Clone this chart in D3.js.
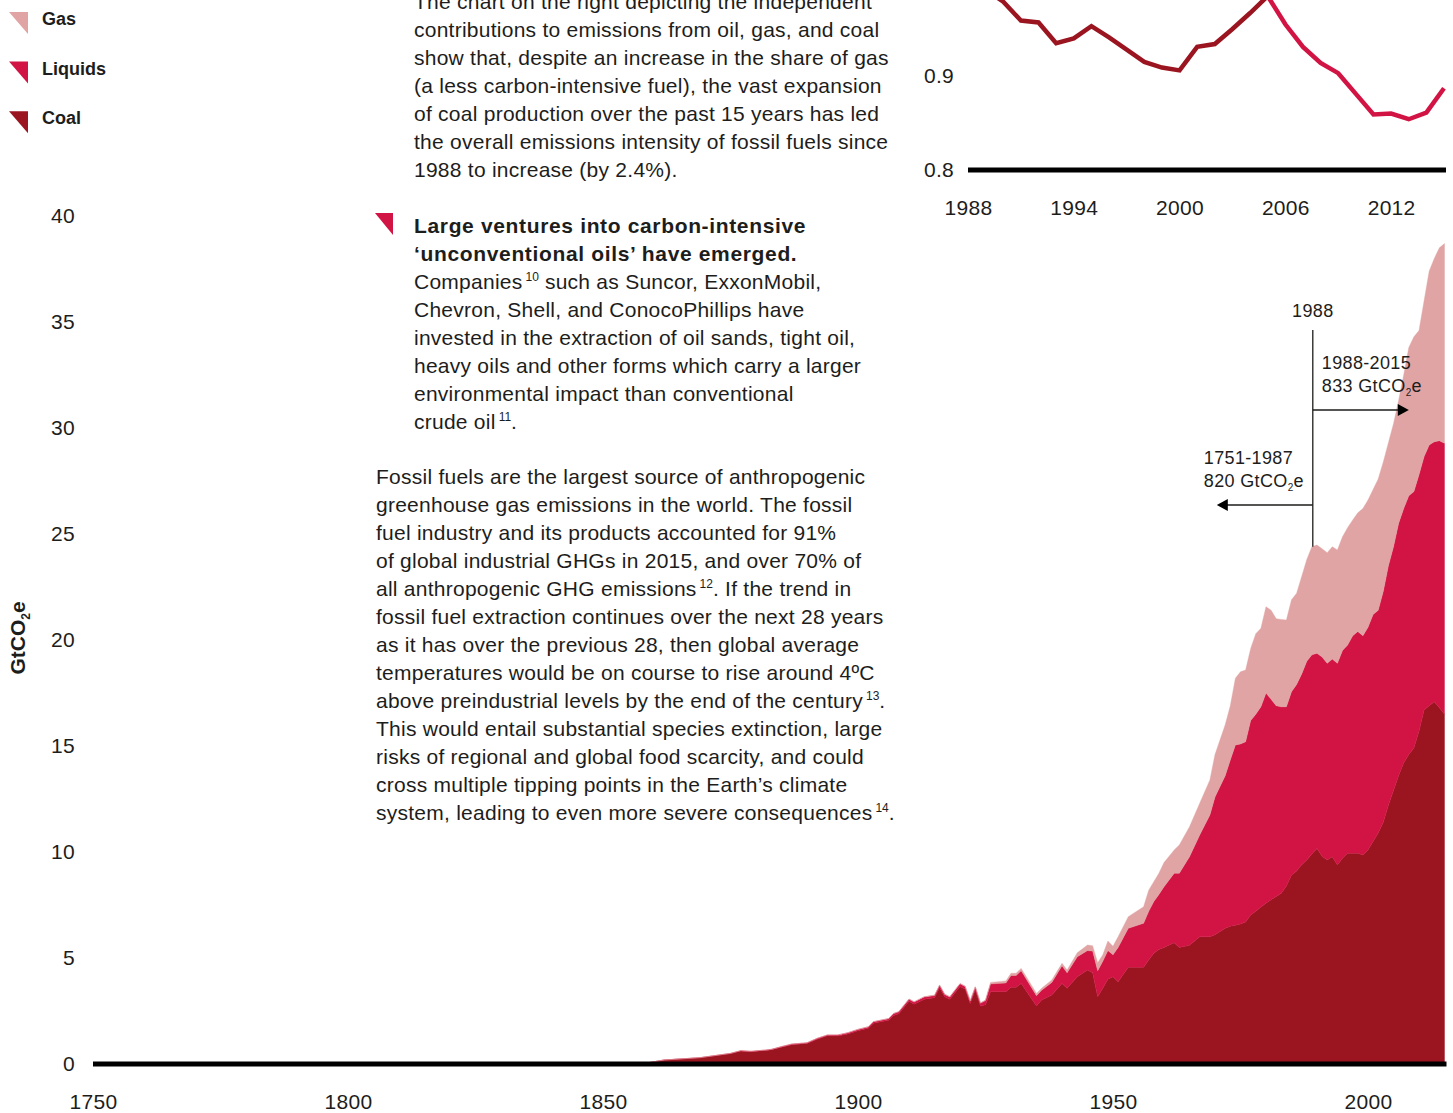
<!DOCTYPE html>
<html>
<head>
<meta charset="utf-8">
<script src="https://cdn.jsdelivr.net/npm/d3@7"></script>
<style>
  body { margin: 0; background: #fff; }
  svg { display: block; }
  text { font-family: "Liberation Sans", Arial, sans-serif; fill: #1d1d1b; }
  .copy { font-size: 21px; letter-spacing: 0.25px; }
  .copy .head { font-weight: bold; letter-spacing: 0.65px; }
  .tick text { font-size: 21px; letter-spacing: 0.3px; fill: #1d1d1b; }
  .legendText { font-size: 18px; font-weight: bold; }
  .note { font-size: 18px; letter-spacing: 0.35px; }
  .unit { font-size: 21px; font-weight: bold; }
</style>
</head>
<body>
<div id="chart"></div>
<script>
// emissions by fuel, GtCO2e
var years = [1751, 1800, 1850, 1858, 1862, 1869, 1875, 1877, 1879, 1882, 1883, 1885, 1887, 1890, 1892, 1894, 1896, 1898,
  1900, 1902, 1903, 1906, 1907, 1908, 1910, 1911, 1913, 1915, 1916, 1917, 1918, 1920, 1921, 1922, 1923, 1924, 1925, 1926,
  1929, 1930, 1931, 1932, 1935, 1936, 1938, 1940, 1941, 1943, 1945, 1946, 1947, 1948, 1949, 1950, 1951, 1953, 1956, 1957,
  1958, 1959, 1960, 1962, 1963, 1965, 1967, 1969, 1970, 1972, 1973, 1974, 1975, 1976, 1977, 1978, 1979, 1980, 1981, 1982,
  1983, 1984, 1985, 1986, 1987, 1988, 1989, 1990, 1991, 1992, 1993, 1994, 1995, 1996, 1997, 1998, 1999, 2000, 2001, 2002,
  2003, 2004, 2005, 2006, 2007, 2008, 2009, 2010, 2011, 2012, 2013, 2014, 2015];
var coal = [0, 0, 0, 0.02, 0.19, 0.29, 0.49, 0.61, 0.58, 0.64, 0.67, 0.79, 0.91, 0.97, 1.17, 1.33, 1.32, 1.42,
  1.57, 1.69, 1.92, 2.06, 2.29, 2.37, 2.96, 2.82, 3.06, 3.13, 3.60, 3.17, 3.05, 3.66, 3.54, 2.85, 3.50, 2.73, 2.80, 3.41,
  3.41, 3.62, 3.62, 3.80, 2.74, 3.02, 3.25, 3.80, 3.57, 4.12, 4.43, 4.30, 3.17, 3.57, 4.00, 4.12, 3.88, 4.56, 4.56, 4.90,
  5.22, 5.40, 5.50, 5.72, 5.50, 5.60, 6.00, 6.00, 6.10, 6.40, 6.50, 6.55, 6.60, 6.70, 7.03, 7.20, 7.40, 7.58, 7.75, 7.90,
  8.05, 8.40, 8.90, 9.10, 9.40, 9.62, 9.90, 10.17, 9.80, 9.62, 9.78, 9.39, 9.70, 9.94, 9.94, 9.94, 9.86, 10.10, 10.50, 10.90,
  11.40, 12.20, 12.90, 13.60, 14.20, 14.60, 14.90, 15.70, 16.70, 16.90, 17.09, 16.80, 16.50];
var liquids = [0, 0, 0, 0, 0, 0.01, 0.01, 0.02, 0.02, 0.02, 0.02, 0.03, 0.03, 0.03, 0.04, 0.04, 0.05, 0.05,
  0.06, 0.06, 0.07, 0.08, 0.09, 0.09, 0.10, 0.10, 0.10, 0.10, 0.11, 0.11, 0.11, 0.12, 0.12, 0.12, 0.13, 0.14, 0.19, 0.37,
  0.41, 0.56, 0.56, 0.60, 0.48, 0.46, 0.60, 0.83, 0.73, 0.94, 0.92, 1.03, 1.23, 1.28, 1.35, 1.03, 1.62, 1.84, 2.08, 2.30,
  2.44, 2.60, 2.86, 3.28, 3.50, 4.18, 4.80, 5.75, 6.50, 7.20, 7.84, 8.50, 8.50, 8.50, 9.17, 9.30, 9.45, 9.92, 9.45, 9.00,
  8.80, 8.45, 8.66, 8.80, 9.00, 9.38, 9.40, 9.20, 9.40, 9.28, 9.32, 9.51, 9.80, 9.82, 10.26, 10.46, 10.34, 10.50, 10.70, 10.50,
  10.90, 11.30, 11.50, 11.90, 12.00, 12.20, 12.10, 12.10, 11.95, 12.30, 12.26, 12.60, 12.78];
var gas = [0, 0, 0, 0, 0, 0, 0, 0, 0, 0, 0, 0, 0, 0, 0, 0, 0, 0.01,
  0.01, 0.01, 0.01, 0.01, 0.01, 0.01, 0.01, 0.02, 0.02, 0.02, 0.02, 0.02, 0.02, 0.02, 0.02, 0.02, 0.02, 0.02, 0.03, 0.07,
  0.10, 0.10, 0.10, 0.11, 0.11, 0.09, 0.11, 0.12, 0.13, 0.19, 0.26, 0.25, 0.38, 0.30, 0.45, 0.40, 0.50, 0.55, 0.78, 1.00,
  0.94, 1.00, 1.14, 1.10, 1.33, 1.41, 1.50, 1.65, 2.00, 2.40, 2.56, 3.15, 3.40, 3.38, 3.40, 3.80, 3.70, 4.07, 4.20, 4.10,
  4.12, 4.09, 4.34, 4.30, 4.60, 4.80, 5.10, 5.11, 5.10, 5.22, 5.30, 5.35, 5.37, 5.54, 5.46, 5.60, 6.00, 6.00, 5.90, 6.20,
  6.10, 5.80, 5.80, 5.80, 6.30, 7.00, 7.30, 6.80, 7.35, 8.20, 8.65, 9.10, 9.42];

var fuels = ["coal", "liquids", "gas"];
var fuelColors = {gas: "#e0a4a4", liquids: "#d21444", coal: "#9b1520"};
var legendItems = ["Gas", "Liquids", "Coal"];

var yearTicks = [1750, 1800, 1850, 1900, 1950, 2000];
var valueTicks = [0, 5, 10, 15, 20, 25, 30, 35, 40];

// emissions intensity inset
var intensityYearsCoal = [1988, 1989, 1990, 1991, 1992, 1993, 1994, 1995, 1996, 1997, 1998, 1999, 2000, 2001, 2002, 2003, 2004, 2005];
var intensityCoal = [1.005, 0.992, 0.979, 0.959, 0.957, 0.935, 0.940, 0.953, 0.941, 0.928, 0.915, 0.909, 0.906, 0.931, 0.934, 0.950, 0.967, 0.985];
var intensityYearsLiquids = [2005, 2006, 2007, 2008, 2009, 2010, 2011, 2012, 2013, 2014, 2015];
var intensityLiquids = [0.985, 0.955, 0.931, 0.914, 0.903, 0.881, 0.859, 0.860, 0.854, 0.861, 0.887];
var insetYearTicks = [1988, 1994, 2000, 2006, 2012];
var insetValueTicks = [0.8, 0.9];

var rows = years.map(function(yr, i){
  return {year: yr, coal: coal[i], liquids: liquids[i], gas: gas[i]};
});

var width = 1453, height = 1113;

var svg = d3.select("#chart")
  .append("svg")
  .attr("width", width)
  .attr("height", height);

// scales
var x = d3.scaleLinear().domain([1750, 2015]).range([93, 1444.5]);
var y = d3.scaleLinear().domain([0, 40]).range([1064, 216]);

var ix = d3.scaleLinear().domain([1988, 2015]).range([968, 1444]);
var iy = d3.scaleLinear().domain([0.8, 0.9]).range([170, 76]);

// stacked areas
var series = d3.stack().keys(fuels)(rows);

var area = d3.area()
  .x(function(d){ return x(d.data.year); })
  .y0(function(d){ return y(d[0]); })
  .y1(function(d){ return y(d[1]); });

svg.append("g")
  .selectAll("path")
  .data(series)
  .enter()
  .append("path")
  .attr("d", area)
  .attr("fill", function(d){ return fuelColors[d.key]; })
  .attr("stroke", function(d){ return fuelColors[d.key]; })
  .attr("stroke-width", 0.4);

// main axes
var xAxis = d3.axisBottom(x).tickValues(yearTicks).tickFormat(d3.format("d")).tickSize(0).tickPadding(30);
svg.append("g")
  .attr("transform", "translate(0," + y(0) + ")")
  .call(xAxis)
  .call(function(g){ g.select(".domain").remove(); });

var yAxis = d3.axisLeft(y).tickValues(valueTicks).tickSize(0).tickPadding(18);
svg.append("g")
  .attr("transform", "translate(93,0)")
  .call(yAxis)
  .call(function(g){ g.select(".domain").remove(); });

svg.append("line")
  .attr("x1", x(1750)).attr("x2", x(2015) + 2)
  .attr("y1", y(0)).attr("y2", y(0))
  .attr("stroke", "#000").attr("stroke-width", 5);

var unit = svg.append("text")
  .attr("class", "unit")
  .attr("transform", "translate(25," + 638 + ") rotate(-90)")
  .attr("text-anchor", "middle");
unit.append("tspan").text("GtCO");
unit.append("tspan").attr("dy", 5).style("font-size", "12px").text("2");
unit.append("tspan").attr("dy", -5).text("e");

// inset lines
var insetLine = d3.line()
  .x(function(d){ return ix(d[0]); })
  .y(function(d){ return iy(d[1]); });

svg.append("path")
  .datum(d3.zip(intensityYearsCoal, intensityCoal))
  .attr("d", insetLine)
  .attr("fill", "none")
  .attr("stroke", fuelColors.coal)
  .attr("stroke-width", 4.5)
  .attr("stroke-linejoin", "miter");

svg.append("path")
  .datum(d3.zip(intensityYearsLiquids, intensityLiquids))
  .attr("d", insetLine)
  .attr("fill", "none")
  .attr("stroke", fuelColors.liquids)
  .attr("stroke-width", 4.5)
  .attr("stroke-linejoin", "miter");

var ixAxis = d3.axisBottom(ix).tickValues(insetYearTicks).tickFormat(d3.format("d")).tickSize(0).tickPadding(30);
svg.append("g")
  .attr("transform", "translate(0," + iy(0.8) + ")")
  .call(ixAxis)
  .call(function(g){ g.select(".domain").remove(); });

var iyAxis = d3.axisLeft(iy).tickValues(insetValueTicks).tickFormat(d3.format(".1f")).tickSize(0).tickPadding(14);
svg.append("g")
  .attr("transform", "translate(968,0)")
  .call(iyAxis)
  .call(function(g){ g.select(".domain").remove(); });

svg.append("line")
  .attr("x1", ix(1988)).attr("x2", ix(2015) + 2)
  .attr("y1", iy(0.8)).attr("y2", iy(0.8))
  .attr("stroke", "#000").attr("stroke-width", 5);

// legend
var legend = svg.append("g").attr("class", "legend");
legendItems.forEach(function(name, i){
  var g = legend.append("g").attr("transform", "translate(9," + (12 + i * 49.6) + ")");
  g.append("path")
    .attr("d", "M0,0L19,0L19,22Z")
    .attr("fill", fuelColors[name.toLowerCase()]);
  g.append("text")
    .attr("class", "legendText")
    .attr("x", 33)
    .attr("y", 13)
    .text(name);
});

// annotation of the 1988 split
var splitYear = 1988;
var splitX = x(splitYear) + 6;
var ann = svg.append("g").attr("class", "annotation");
ann.append("line")
  .attr("x1", splitX).attr("x2", splitX)
  .attr("y1", 330).attr("y2", y(24.4))
  .attr("stroke", "#1d1d1b").attr("stroke-width", 1.3);
ann.append("text").attr("class", "note").attr("x", splitX).attr("y", 317)
  .attr("text-anchor", "middle").text(splitYear);

function arrow(y0, len){
  ann.append("line")
    .attr("x1", splitX).attr("x2", splitX + len - (len > 0 ? 8 : -8))
    .attr("y1", y0).attr("y2", y0)
    .attr("stroke", "#1d1d1b").attr("stroke-width", 1.3);
  var tip = splitX + len, back = tip - (len > 0 ? 11 : -11);
  ann.append("path")
    .attr("d", "M" + tip + "," + y0 + "L" + back + "," + (y0 - 6) + "L" + back + "," + (y0 + 6) + "Z")
    .attr("fill", "#000");
}
arrow(410, 96);
arrow(505, -96);

function noteText(xp, yp, period, total){
  ann.append("text").attr("class", "note").attr("x", xp).attr("y", yp).text(period);
  var l2 = ann.append("text").attr("class", "note").attr("x", xp).attr("y", yp + 23);
  l2.append("tspan").text(total + " GtCO");
  l2.append("tspan").attr("dy", 4).style("font-size", "10px").text("2");
  l2.append("tspan").attr("dy", -4).text("e");
}
noteText(splitX + 9, 369, "1988-2015", "833");
noteText(splitX - 109, 464, "1751-1987", "820");

// body copy
var copy = svg.append("g").attr("class", "copy");

function para(xp, y0, lines, cls){
  lines.forEach(function(line, i){
    var t = copy.append("text").attr("x", xp).attr("y", y0 + i * 28);
    if (cls) t.attr("class", cls);
    var raised = false;
    (Array.isArray(line) ? line : [line]).forEach(function(seg){
      if (typeof seg === "string") {
        var s = t.append("tspan").text(seg);
        if (raised) { s.attr("dy", 8); raised = false; }
      } else {
        t.append("tspan").attr("dx", 3).attr("dy", -8)
          .style("font-size", "12px").style("letter-spacing", "0px").text(seg.sup);
        raised = true;
      }
    });
  });
}

para(414, 8.5, [
  "The chart on the right depicting the independent",
  "contributions to emissions from oil, gas, and coal",
  "show that, despite an increase in the share of gas",
  "(a less carbon-intensive fuel), the vast expansion",
  "of coal production over the past 15 years has led",
  "the overall emissions intensity of fossil fuels since",
  "1988 to increase (by 2.4%)."
]);

copy.append("path")
  .attr("d", "M375,213L393,213L393,235Z")
  .attr("fill", fuelColors.liquids);

para(414, 233, [
  "Large ventures into carbon-intensive",
  "\u2018unconventional oils\u2019 have emerged."
], "head");

para(414, 289, [
  ["Companies", {sup: "10"}, " such as Suncor, ExxonMobil,"],
  "Chevron, Shell, and ConocoPhillips have",
  "invested in the extraction of oil sands, tight oil,",
  "heavy oils and other forms which carry a larger",
  "environmental impact than conventional",
  ["crude oil", {sup: "11"}, "."]
]);

para(376, 483.5, [
  "Fossil fuels are the largest source of anthropogenic",
  "greenhouse gas emissions in the world. The fossil",
  "fuel industry and its products accounted for 91%",
  "of global industrial GHGs in 2015, and over 70% of",
  ["all anthropogenic GHG emissions", {sup: "12"}, ". If the trend in"],
  "fossil fuel extraction continues over the next 28 years",
  "as it has over the previous 28, then global average",
  "temperatures would be on course to rise around 4\u00baC",
  ["above preindustrial levels by the end of the century", {sup: "13"}, "."],
  "This would entail substantial species extinction, large",
  "risks of regional and global food scarcity, and could",
  "cross multiple tipping points in the Earth\u2019s climate",
  ["system, leading to even more severe consequences", {sup: "14"}, "."]
]);
</script>
</body>
</html>
